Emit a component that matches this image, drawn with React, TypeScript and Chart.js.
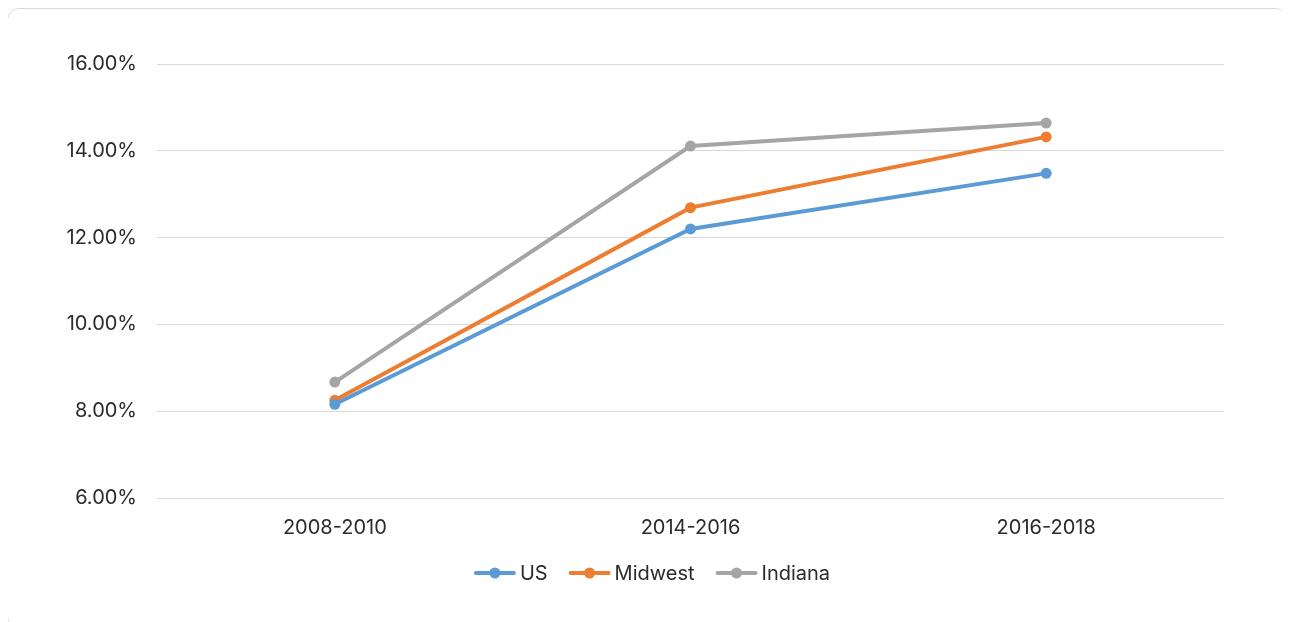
import React, { useEffect, useRef } from "react";
import { Chart, registerables } from "chart.js";

Chart.register(...registerables);

const categories = ["2008-2010", "2014-2016", "2016-2018"];
const usValues = [8.16, 12.2, 13.48];
const midwestValues = [8.25, 12.69, 14.32];
const indianaValues = [8.67, 14.11, 14.64];
const seriesNames = ["US", "Midwest", "Indiana"];
const seriesColors = ["#5b9bd5", "#ed7d31", "#a5a5a5"];

const FONT = "Inter, 'Open Sans', sans-serif";
const TEXT = "#2b2b2b";

const customLegend = {
  id: "customLegend",
  afterDraw(chart: any) {
    const ctx = chart.ctx;
    const datasets = chart.data.datasets;
    const iconW = 42;
    const textGap = 4;
    const itemGap = 21;
    ctx.save();
    ctx.font = `20px ${FONT}`;
    const widths = datasets.map((ds: any) => iconW + textGap + ctx.measureText(ds.label).width);
    const total = widths.reduce((a: number, b: number) => a + b, 0) + itemGap * (datasets.length - 1);
    let x = 644 - total / 2;
    const y = 564;
    datasets.forEach((ds: any, i: number) => {
      const color = ds.borderColor;
      ctx.strokeStyle = color;
      ctx.lineWidth = 4;
      ctx.lineCap = "round";
      ctx.beginPath();
      ctx.moveTo(x + 2, y);
      ctx.lineTo(x + iconW - 2, y);
      ctx.stroke();
      ctx.fillStyle = color;
      ctx.beginPath();
      ctx.arc(x + iconW / 2, y, 5.5, 0, Math.PI * 2);
      ctx.fill();
      ctx.fillStyle = TEXT;
      ctx.textBaseline = "middle";
      ctx.textAlign = "left";
      ctx.fillText(ds.label, x + iconW + textGap, y + 1);
      x += widths[i] + itemGap;
    });
    ctx.restore();
  },
};

export default function App() {
  const ref = useRef<HTMLCanvasElement | null>(null);
  useEffect(() => {
    if (!ref.current) return;
    const allValues = [usValues, midwestValues, indianaValues];
    const chart = new Chart(ref.current, {
      type: "line",
      data: {
        labels: categories,
        datasets: allValues.map((vals, i) => ({
          label: seriesNames[i],
          data: vals,
          borderColor: seriesColors[i],
          backgroundColor: seriesColors[i],
          borderWidth: 4,
          pointRadius: 5.5,
          pointHoverRadius: 5.5,
          pointBorderWidth: 0,
          tension: 0,
        })),
      },
      options: {
        animation: false,
        responsive: true,
        maintainAspectRatio: false,
        layout: { padding: { left: 0, right: 62, top: 55, bottom: 89 } },
        scales: {
          x: {
            offset: true,
            grid: { display: false },
            border: { display: false },
            afterFit: (axis: any) => {
              axis.height = 40;
            },
            ticks: { color: TEXT, font: { family: FONT, size: 20 }, padding: 10 },
          },
          y: {
            min: 6,
            max: 16,
            afterFit: (axis: any) => {
              axis.width = 149;
            },
            grid: { color: "#d9d9d9", lineWidth: 1, drawTicks: false },
            border: { display: false },
            ticks: {
              stepSize: 2,
              color: TEXT,
              padding: 20,
              font: { family: FONT, size: 20 },
              callback: (v: any) => Number(v).toFixed(2) + "%",
            },
          },
        },
        plugins: {
          legend: { display: false },
          tooltip: { enabled: false },
        },
      },
      plugins: [customLegend],
    });
    return () => chart.destroy();
  }, []);
  return (
    <div
      style={{
        width: 1278,
        height: 618,
        border: "1px solid #d9d9d9",
        borderRadius: 12,
        position: "relative",
        marginLeft: -1,
      }}
    >
      <canvas ref={ref} />
    </div>
  );
}
